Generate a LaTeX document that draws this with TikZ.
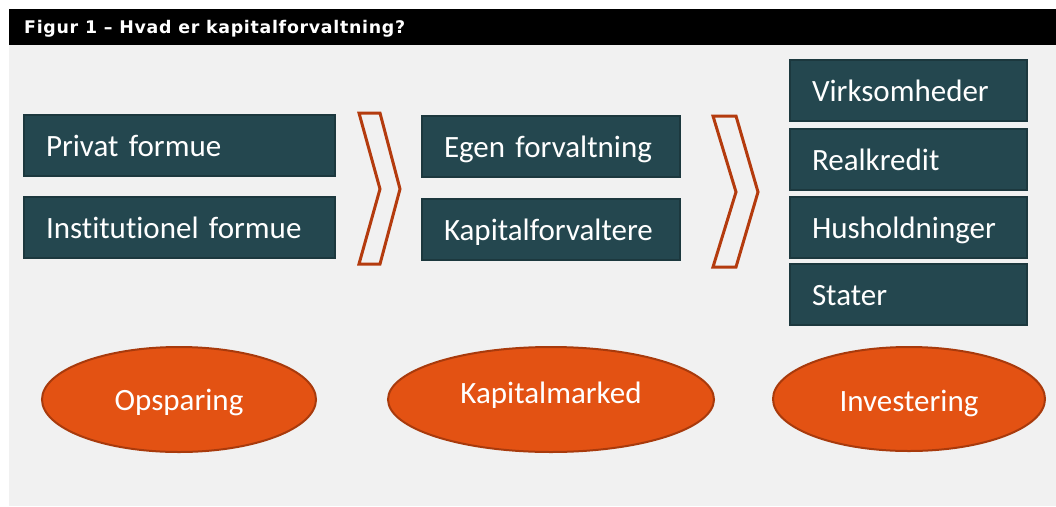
\documentclass[tikz,border=0pt]{standalone}
\usepackage{fontspec}
\setmainfont{Carlito}[Ligatures=NoCommon]
\newfontfamily\headfont{DejaVu Sans}[LetterSpace=4]
\usetikzlibrary{shapes.geometric}
\definecolor{panel}{HTML}{F1F1F1}
\definecolor{boxfill}{HTML}{24474F}
\definecolor{boxline}{HTML}{1C383E}
\definecolor{ellfill}{HTML}{E35213}
\definecolor{ellline}{HTML}{A83A0C}
\definecolor{chev}{HTML}{B43B0E}
\begin{document}
\begin{tikzpicture}[x=1pt,y=-1pt,
  box/.style={draw=boxline, line width=2pt, fill=boxfill, text=white,
    font=\fontsize{31}{36}\selectfont, inner xsep=22pt, inner ysep=0pt,
    align=left, minimum height=61pt, text height=22pt, text depth=0pt},
  colA/.style={box, text width=267pt},
  colB/.style={box, text width=214pt},
  colC/.style={box, text width=193pt},
  ell/.style={ellipse, draw=ellline, line width=2pt, fill=ellfill, text=white,
    font=\fontsize{31}{36}\selectfont, inner sep=0pt, text depth=0pt},
  chevron/.style={draw=chev, line width=3pt, line join=miter}
]
\useasboundingbox (0,0) rectangle (1056,506);
\fill[white] (0,0) rectangle (1056,506);
\fill[panel] (9,45) rectangle (1056,506);
\fill[black] (9,9) rectangle (1056,45);
\node[anchor=base west, text=white, font=\headfont\bfseries\fontsize{17.4}{20}\selectfont, inner sep=0pt] (title) at (24,33) {Figur 1 – Hvad er kapitalforvaltning?};

% column 1
\node[colA] (privat) at (179.5,145.5) {Privat formue};
\node[colA] (inst) at (179.5,227.5) {Institutionel formue};

% column 2
\node[colB] (egen) at (551,146.5) {Egen forvaltning};
\node[colB] (kapf) at (551,229) {Kapitalforvaltere};

% column 3
\node[colC] (virk) at (908.5,90.5) {Virksomheder};
\node[colC] (real) at (908.5,159) {Realkredit};
\node[colC] (hush) at (908.5,227.5) {Husholdninger};
\node[colC] (stat) at (908.5,294.5) {Stater};

% chevrons
\draw[chevron] (359,113) -- (380,113) -- (400,189) -- (380,264) -- (359,264) -- (380,189) -- cycle;
\draw[chevron] (713,116) -- (736,116) -- (758,192) -- (736,267) -- (713,267) -- (736,192) -- cycle;

% ellipses
\node[ell, minimum width=274pt, minimum height=105pt, text height=22pt] (ops) at (179,399.5) {Opsparing};
\node[ell, minimum width=326pt, minimum height=105pt, text height=7pt] (kapm) at (551,399.5) {Kapitalmarked};
\node[ell, minimum width=272pt, minimum height=104pt, text height=24pt] (inv) at (909,399) {Investering};
\end{tikzpicture}
\end{document}
